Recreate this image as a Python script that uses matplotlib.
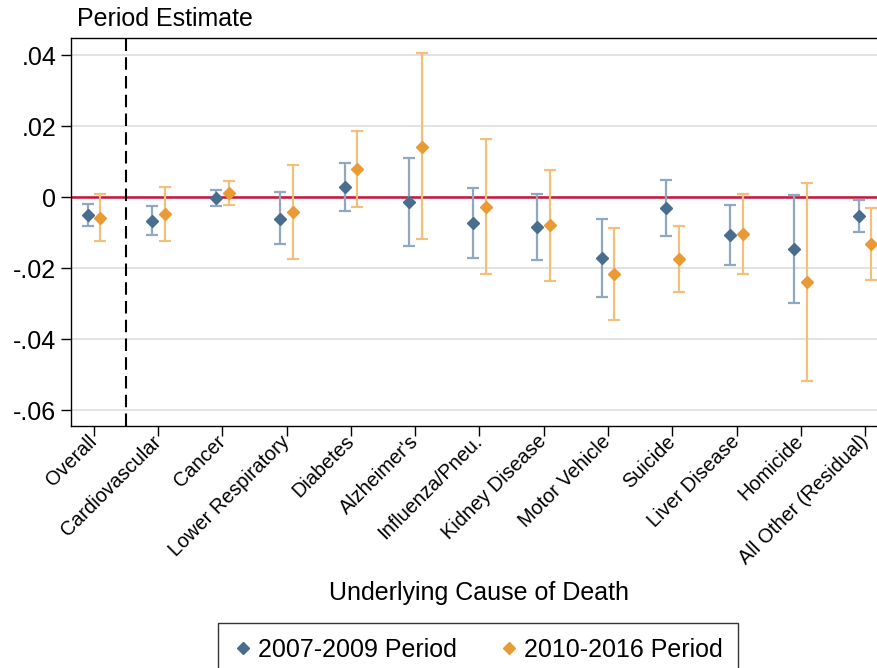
import matplotlib
matplotlib.use("Agg")
import matplotlib.pyplot as plt
import matplotlib.transforms as mtransforms
from matplotlib.lines import Line2D
import numpy as np

plt.rcParams["font.family"] = ["Liberation Sans", "DejaVu Sans"]

causes = ["Overall", "Cardiovascular", "Cancer", "Lower Respiratory", "Diabetes",
          "Alzheimer's", "Influenza/Pneu.", "Kidney Disease", "Motor Vehicle",
          "Suicide", "Liver Disease", "Homicide", "All Other (Residual)"]

# 2007-2009 period: estimate, lower and upper 95% bounds
est_0709 = [-0.0051, -0.0067, -0.0002, -0.0061, 0.0028, -0.0014, -0.0073,
            -0.0085, -0.0171, -0.0031, -0.0106, -0.0146, -0.0053]
lo_0709 = [-0.0082, -0.0108, -0.0024, -0.0133, -0.0038, -0.0137, -0.0173,
           -0.0177, -0.0281, -0.0111, -0.0190, -0.0298, -0.0098]
hi_0709 = [-0.0020, -0.0025, 0.0021, 0.0013, 0.0096, 0.0110, 0.0025,
           0.0008, -0.0061, 0.0049, -0.0022, 0.0006, -0.0008]

# 2010-2016 period
est_1016 = [-0.0060, -0.0048, 0.0011, -0.0042, 0.0078, 0.0142, -0.0027,
            -0.0080, -0.0216, -0.0174, -0.0104, -0.0239, -0.0131]
lo_1016 = [-0.0125, -0.0123, -0.0022, -0.0174, -0.0028, -0.0119, -0.0217,
           -0.0236, -0.0345, -0.0267, -0.0216, -0.0517, -0.0233]
hi_1016 = [0.0008, 0.0027, 0.0045, 0.0091, 0.0186, 0.0405, 0.0164,
           0.0075, -0.0086, -0.0082, 0.0008, 0.0041, -0.0030]

yticks = [0.04, 0.02, 0.0, -0.02, -0.04, -0.06]
ytick_labels = [".04", ".02", "0", "-.02", "-.04", "-.06"]

W, H = 878, 668
fig = plt.figure(figsize=(W / 100, H / 100), dpi=100)
ax_l, ax_r, ax_t, ax_b = 71.5, 887.5, 37.7, 426.0
ax = fig.add_axes([ax_l / W, 1 - ax_b / H, (ax_r - ax_l) / W, (ax_b - ax_t) / H])

x = np.arange(1, len(causes) + 1)
off = 0.1

blue, blue_ci = "#486d8e", "#8fa8c0"
orange, orange_ci = "#ea9a35", "#f3c07c"

def draw_series(xpos, est, lo, hi, col, col_ci):
    est = np.asarray(est)
    yerr = np.vstack([est - np.asarray(lo), np.asarray(hi) - est])
    ax.errorbar(xpos, est, yerr=yerr, fmt="none", ecolor=col_ci,
                elinewidth=1.6, capsize=4.6, capthick=1.6, zorder=3)
    ax.plot(xpos, est, linestyle="none", marker="D", ms=6.6,
            color=col, mec=col, zorder=4)

draw_series(x - off, est_0709, lo_0709, hi_0709, blue, blue_ci)
draw_series(x + off, est_1016, lo_1016, hi_1016, orange, orange_ci)

ax.axhline(0, color="#c8143c", lw=1.8, zorder=2)
ax.axvline(1.5, color="black", lw=1.5, ls=(0, (6, 3)), zorder=2)

ax.set_xlim(0.65, 13.35)
ax.set_ylim(-0.0645, 0.0449)
ax.set_yticks(yticks)
ax.set_yticklabels(ytick_labels, fontsize=18)
ax.yaxis.grid(True, color="#e2e2e2", lw=1.4)
ax.set_axisbelow(True)

ax.set_xticks(x)
ax.set_xticklabels(causes, fontsize=14.3, rotation=45, ha="right",
                   va="center", rotation_mode="anchor")
shift = mtransforms.ScaledTranslation(7 / 100, -8 / 100, fig.dpi_scale_trans)
for lab in ax.get_xticklabels():
    lab.set_transform(lab.get_transform() + shift)

ax.tick_params(axis="both", length=7, width=1.0, color="black")
ax.tick_params(axis="y", pad=4)
ax.tick_params(axis="x", pad=2)
for s in ["left", "top", "bottom", "right"]:
    ax.spines[s].set_linewidth(1.0)
    ax.spines[s].set_color("black")

fig.text(77 / W, 1 - 25.7 / H, "Period Estimate", fontsize=18,
         ha="left", va="baseline")
fig.text(479.5 / W, 1 - 593 / H, "Underlying Cause of Death", fontsize=18,
         ha="center", va="center")

handles = [Line2D([], [], ls="none", marker="D", ms=6.6, color=blue),
           Line2D([], [], ls="none", marker="D", ms=6.6, color=orange)]
leg = fig.legend(handles, ["2007-2009 Period", "2010-2016 Period"], ncol=2,
                 loc="upper left", bbox_to_anchor=(218 / W, 1 - 623 / H),
                 fontsize=18, frameon=True, fancybox=False, edgecolor="black",
                 handlelength=0.8, handletextpad=0.2, columnspacing=1.7,
                 borderpad=0.6, borderaxespad=0)
leg.get_frame().set_linewidth(1.0)

fig.savefig("out.png", dpi=100)
